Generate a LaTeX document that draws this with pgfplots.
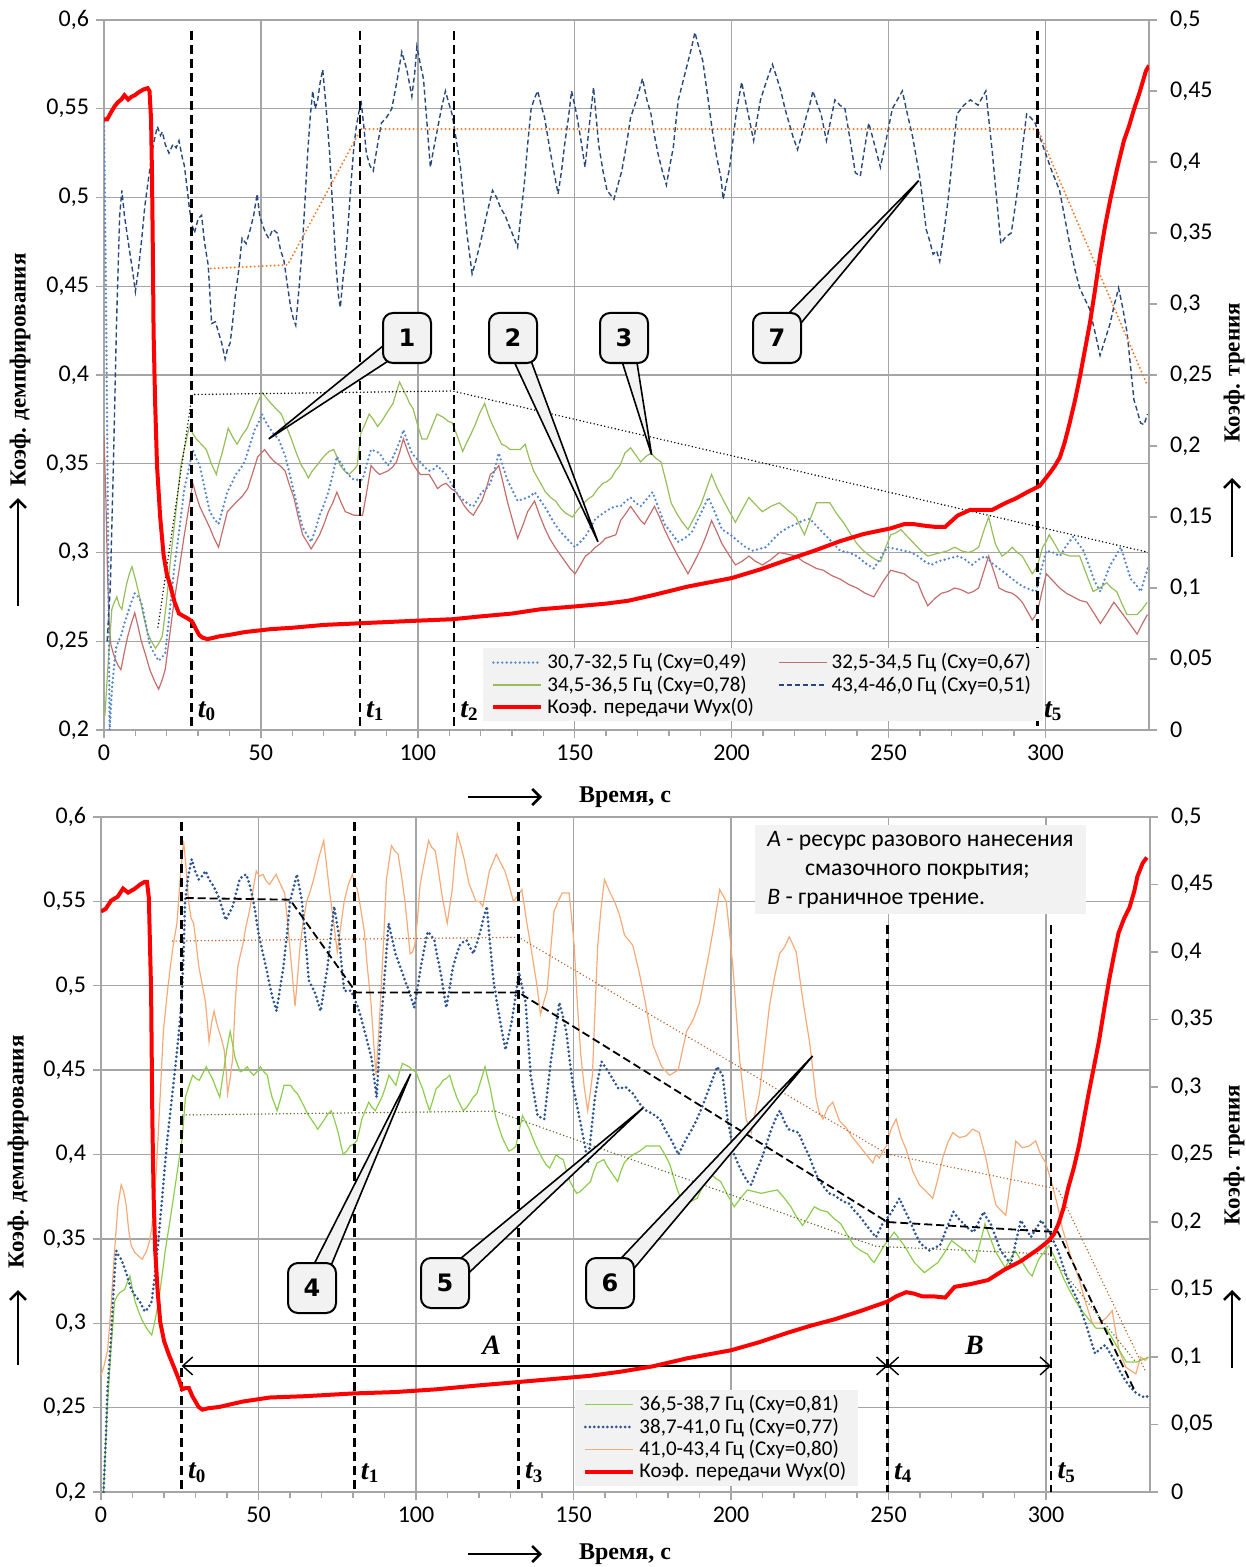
\documentclass[border=0pt]{standalone}
\usepackage{fontspec}
\setmainfont{Carlito}
\newfontfamily\tnr{Liberation Serif}
\newfontfamily\dvs{DejaVu Sans}
\usepackage{pgfplots}
\pgfplotsset{compat=1.18}
\usetikzlibrary{calc,arrows.meta}

\definecolor{lbl}{RGB}{86,134,204}
\definecolor{brn}{RGB}{196,110,108}
\definecolor{grt}{RGB}{150,190,90}
\definecolor{dkb}{RGB}{38,72,125}
\definecolor{org}{RGB}{237,125,49}
\definecolor{grb}{RGB}{140,205,75}
\definecolor{blb}{RGB}{45,85,145}
\definecolor{orb}{RGB}{246,170,120}
\definecolor{trb}{RGB}{190,95,40}
\definecolor{trg}{RGB}{95,105,40}
\definecolor{lg}{RGB}{242,242,242}
\definecolor{grd}{RGB}{165,165,165}
\definecolor{wred}{RGB}{255,0,0}

\newcommand{\tl}[1]{{\tnr\bfseries\itshape\fontsize{14}{14}\selectfont t}{\tnr\bfseries\fontsize{9.5}{9.5}\selectfont\raisebox{-0.4ex}{#1}}}
\newcommand{\callout}[3]{%
  \fill[lg, draw=black, line width=0.8pt] ($#1!4.5pt!90:#2$) -- #2 -- ($#1!4.5pt!-90:#2$) -- cycle;
  \node[callbox] at #1 {#3};}

\pgfplotsset{
  base/.style={scale only axis, xmin=0, xmax=333,
    axis line style={grd, line width=0.7pt},
    tick style={grd, line width=0.7pt}, tick align=outside,
    major tick length=4pt, minor tick length=3pt,
    tick label style={font=\fontsize{12}{12}\selectfont, black},
    legend image code/.code={\draw[##1] (0pt,0pt) -- (24pt,0pt);}},
  leftax/.style={base, ymin=0.2, ymax=0.6,
    ytick={0.2,0.25,0.3,0.35,0.4,0.45,0.5,0.55,0.6},
    yticklabels={{0,2},{0,25},{0,3},{0,35},{0,4},{0,45},{0,5},{0,55},{0,6}},
    xtick={0,50,100,150,200,250,300},
    xticklabels={0,50,100,150,200,250,300}, minor x tick num=4,
    xmajorgrids, ymajorgrids, major grid style={grd, line width=0.7pt},
    xtick pos=bottom, ytick pos=left},
  rightax/.style={base, ymin=0, ymax=0.5,
    ytick={0,0.05,0.1,0.15,0.2,0.25,0.3,0.35,0.4,0.45,0.5},
    yticklabels={0,{0,05},{0,1},{0,15},{0,2},{0,25},{0,3},{0,35},{0,4},{0,45},{0,5}},
    axis y line*=right, axis x line=none,
    yticklabel style={xshift=3pt},
    legend style={font=\fontsize{10.5}{12}\selectfont, fill=lg, draw=none,
      inner xsep=4pt, inner ysep=1.5pt, nodes={inner ysep=1pt, inner xsep=2pt},
      cells={anchor=west}, /tikz/every even column/.append style={column sep=10pt}}},
  tline/.style={black, line width=1.25pt, dash pattern=on 4.5pt off 2.5pt},
  ldot/.style={line width=1.3pt, dash pattern=on 0pt off 2.2pt, line cap=round},
}
\tikzset{callbox/.style={draw, line width=1pt, fill=lg, rounded corners=5pt,
  minimum width=24pt, minimum height=25pt, inner sep=0pt,
  font=\dvs\bfseries\fontsize{12}{12}\selectfont}}

\begin{document}
\begin{tikzpicture}
\path[use as bounding box] (0,0) rectangle (623pt,-783.5pt);

% ================= TOP =================
\begin{axis}[leftax, at={(52pt,-10pt)}, anchor=north west, width=522.5pt, height=355pt]
\addplot[forget plot, brn, line width=0.6pt] coordinates {(0,0.366)(0.6,0.33)(1.1,0.29)(1.6,0.262)(2.2,0.248)(3,0.243)(3.8,0.239)(4.6,0.236)(5.4,0.234)(6.5,0.244)(7.6,0.253)(8.7,0.26)(9.8,0.266)(10.9,0.258)(11.9,0.25)(13.3,0.242)(14.6,0.234)(16,0.228)(17.4,0.223)(18.5,0.228)(19.5,0.234)(20.9,0.253)(22.3,0.272)(24,0.291)(25.6,0.31)(27,0.325)(28.3,0.339)(29.4,0.332)(30.5,0.326)(32.1,0.32)(33.7,0.314)(35.1,0.308)(36.5,0.303)(37.9,0.313)(39.3,0.323)(40.9,0.326)(42.5,0.329)(44.2,0.332)(45.8,0.336)(47.4,0.345)(49,0.354)(50.1,0.356)(51.2,0.358)(52.8,0.354)(54.4,0.351)(56,0.349)(57.7,0.346)(59.1,0.338)(60.5,0.331)(61.9,0.32)(63.3,0.31)(64.7,0.306)(66,0.302)(67.4,0.306)(68.7,0.31)(70.1,0.316)(71.5,0.323)(72.9,0.328)(74.2,0.334)(75.6,0.328)(76.9,0.323)(78.3,0.322)(79.6,0.321)(81,0.321)(82.4,0.321)(83.8,0.335)(85.1,0.349)(86.5,0.346)(87.8,0.344)(89.2,0.345)(90.5,0.346)(91.9,0.348)(93.2,0.351)(94.3,0.357)(95.4,0.364)(96.8,0.357)(98.1,0.351)(99.5,0.347)(100.8,0.344)(102.2,0.344)(103.6,0.344)(105,0.34)(106.3,0.336)(107.7,0.338)(109,0.339)(110.6,0.336)(112.2,0.334)(113.6,0.33)(114.9,0.326)(116.3,0.323)(117.7,0.321)(119,0.325)(120.4,0.329)(121.8,0.336)(123.1,0.344)(124.5,0.346)(125.8,0.349)(127.2,0.339)(128.5,0.329)(130.2,0.318)(131.8,0.308)(133.4,0.315)(135,0.323)(136.1,0.326)(137.2,0.329)(138.8,0.321)(140.4,0.314)(142,0.308)(143.7,0.303)(145.3,0.299)(146.9,0.295)(148.5,0.291)(150.1,0.288)(151.8,0.293)(153.4,0.298)(155,0.3)(156.6,0.303)(158.2,0.305)(159.8,0.308)(161.5,0.309)(163.1,0.31)(164.6,0.318)(166.3,0.322)(167.8,0.326)(169.4,0.322)(171,0.318)(172.2,0.316)(173.8,0.321)(175.4,0.326)(177,0.32)(178.6,0.313)(180.8,0.305)(182.9,0.298)(184.5,0.293)(186.1,0.288)(188.2,0.295)(190.4,0.303)(192,0.31)(193.6,0.318)(195.2,0.312)(196.9,0.305)(199,0.299)(201.2,0.293)(203.3,0.295)(205.5,0.298)(207.6,0.295)(209.8,0.293)(212.5,0.296)(215.2,0.3)(217.9,0.299)(220.5,0.298)(222.7,0.295)(224.9,0.293)(227,0.291)(229.2,0.29)(231.9,0.287)(234.6,0.285)(237.3,0.282)(239.9,0.28)(242.6,0.277)(245.3,0.275)(248,0.283)(250.7,0.29)(252.8,0.289)(255,0.288)(257.2,0.285)(259.3,0.283)(260.9,0.276)(262.5,0.27)(264.7,0.274)(266.8,0.277)(268.9,0.278)(271.1,0.28)(273.2,0.279)(275.4,0.277)(277,0.278)(278.7,0.28)(280.3,0.289)(281.9,0.298)(283.6,0.289)(285.2,0.28)(287.4,0.278)(289.5,0.277)(291,0.275)(292.6,0.272)(294.2,0.267)(295.8,0.262)(296.6,0.264)(297.5,0.267)(298.9,0.278)(300.3,0.288)(302.4,0.284)(304.5,0.28)(306.7,0.277)(308.9,0.275)(311,0.273)(313.2,0.272)(315.4,0.266)(317.5,0.26)(319.7,0.266)(321.8,0.272)(323.9,0.267)(326,0.262)(327.6,0.258)(329.2,0.254)(330.9,0.26)(332.5,0.265)};
\addplot[forget plot, grt, line width=0.6pt] coordinates {(0.3,0.208)(1.4,0.24)(2.5,0.268)(3.3,0.272)(4.1,0.275)(4.9,0.27)(5.7,0.268)(6.5,0.276)(7.3,0.283)(8.1,0.288)(8.9,0.292)(10,0.285)(11.1,0.277)(12.4,0.266)(13.8,0.255)(15.1,0.25)(16.4,0.246)(17.5,0.249)(18.6,0.253)(19.9,0.272)(21.3,0.298)(22.9,0.323)(24.5,0.349)(25.8,0.36)(27.2,0.371)(28.3,0.367)(29.4,0.364)(31,0.361)(32.6,0.358)(34.2,0.35)(35.8,0.344)(36.6,0.35)(37.5,0.355)(38.5,0.362)(39.6,0.37)(41,0.365)(42.4,0.361)(44,0.366)(45.6,0.37)(47.2,0.377)(48.8,0.384)(49.6,0.387)(50.5,0.39)(51.8,0.387)(53.2,0.384)(54.8,0.381)(56.5,0.378)(58.1,0.371)(59.7,0.364)(61.3,0.356)(62.9,0.349)(64,0.346)(65.1,0.342)(66.4,0.346)(67.8,0.349)(69.1,0.352)(70.5,0.355)(71.8,0.357)(73.2,0.358)(74.2,0.354)(75.3,0.349)(76.6,0.346)(78,0.344)(79.3,0.346)(80.7,0.349)(81.8,0.367)(83.1,0.372)(84.5,0.378)(85.8,0.375)(87.2,0.371)(88.5,0.374)(89.9,0.378)(91,0.381)(92.1,0.384)(93.1,0.39)(94.2,0.396)(95.3,0.392)(96.4,0.388)(97.4,0.384)(98.5,0.381)(99.9,0.372)(101.3,0.364)(102.9,0.364)(104.5,0.371)(106.1,0.378)(107.2,0.377)(108.3,0.376)(109.6,0.374)(111,0.373)(112.7,0.365)(114.3,0.357)(115.6,0.362)(117,0.367)(118.3,0.372)(119.6,0.378)(121.3,0.384)(122.4,0.378)(123.5,0.373)(125.1,0.367)(126.7,0.361)(128,0.36)(129.4,0.358)(131,0.358)(132.6,0.358)(134.2,0.361)(135.5,0.353)(136.9,0.346)(138.8,0.34)(140.7,0.334)(142.3,0.331)(143.9,0.329)(145.5,0.325)(147.2,0.322)(149.3,0.32)(150.9,0.324)(152.5,0.327)(154.1,0.33)(155.8,0.332)(157.4,0.336)(159,0.339)(160.3,0.34)(161.7,0.342)(163,0.346)(164.4,0.349)(166,0.356)(167.8,0.359)(169.4,0.355)(171,0.351)(172.6,0.354)(174.3,0.356)(175.9,0.353)(177.5,0.351)(179.1,0.34)(180.7,0.328)(182.5,0.322)(184.3,0.317)(186.1,0.313)(188.2,0.32)(190.4,0.328)(192,0.336)(193.6,0.344)(195.2,0.337)(196.9,0.331)(199,0.324)(201.2,0.317)(203.3,0.324)(205.5,0.331)(207.6,0.327)(209.8,0.323)(212.5,0.326)(215.2,0.328)(217.8,0.324)(220.5,0.32)(221.8,0.315)(223.2,0.31)(225.1,0.319)(227,0.328)(229.2,0.328)(231.3,0.328)(233.4,0.322)(235.6,0.317)(237.7,0.311)(239.9,0.305)(242,0.301)(244.2,0.298)(245.8,0.296)(247.5,0.295)(249.1,0.303)(250.7,0.31)(252.3,0.311)(253.9,0.313)(256,0.309)(258.2,0.305)(260.3,0.301)(262.5,0.298)(264.6,0.299)(266.8,0.3)(268.9,0.301)(271.1,0.303)(273.2,0.301)(275.4,0.3)(277,0.301)(278.7,0.303)(280.3,0.312)(281.9,0.32)(283,0.312)(284,0.305)(285.1,0.301)(286.2,0.298)(287.8,0.3)(289.4,0.303)(291,0.3)(292.6,0.298)(294.2,0.293)(295.8,0.288)(296.6,0.29)(297.5,0.293)(298.3,0.298)(299.1,0.303)(300.2,0.306)(301.2,0.31)(302.9,0.305)(304.5,0.3)(306.1,0.299)(307.7,0.298)(309.3,0.298)(310.9,0.298)(313,0.288)(315.2,0.278)(317.3,0.28)(319.5,0.283)(321.1,0.28)(322.7,0.278)(324.4,0.271)(326,0.265)(327.6,0.265)(329.2,0.265)(330.8,0.268)(332.4,0.272)};
\addplot[forget plot, lbl, ldot] coordinates {(0,0.545)(0.6,0.45)(1.2,0.33)(1.8,0.2)(2.6,0.225)(3.8,0.246)(4.6,0.25)(5.4,0.253)(6.5,0.26)(7.6,0.266)(8.7,0.272)(9.8,0.277)(10.9,0.275)(11.9,0.272)(13.3,0.26)(14.6,0.248)(16,0.243)(17.4,0.239)(18.5,0.241)(19.5,0.243)(20.9,0.266)(22.3,0.29)(24,0.313)(25.6,0.336)(27,0.347)(28.3,0.358)(29.4,0.353)(30.5,0.349)(32.1,0.336)(33.7,0.323)(35.1,0.319)(36.5,0.316)(37.9,0.325)(39.3,0.334)(40.7,0.339)(42,0.344)(43.4,0.347)(44.8,0.351)(46.4,0.36)(48,0.369)(49.2,0.373)(50.3,0.378)(51.4,0.374)(52.4,0.371)(54,0.367)(55.6,0.364)(56.7,0.359)(57.8,0.354)(59.2,0.344)(60.5,0.334)(61.9,0.324)(63.3,0.314)(64.7,0.31)(66,0.306)(67.4,0.313)(68.7,0.321)(70.1,0.327)(71.5,0.334)(72.9,0.344)(74.2,0.354)(75.6,0.35)(76.9,0.346)(78.3,0.343)(79.6,0.341)(81,0.341)(82.4,0.341)(83.8,0.35)(85.1,0.358)(86.5,0.357)(87.8,0.356)(89.2,0.352)(90.5,0.349)(91.9,0.353)(93.2,0.358)(94.3,0.363)(95.4,0.369)(96.8,0.362)(98.1,0.356)(99.5,0.353)(100.8,0.351)(102.2,0.348)(103.6,0.346)(105,0.347)(106.3,0.349)(107.7,0.346)(109,0.344)(110.6,0.339)(112.2,0.334)(113.6,0.331)(114.9,0.329)(116.3,0.327)(117.7,0.326)(119,0.33)(120.4,0.334)(121.8,0.336)(123.1,0.339)(124.5,0.347)(125.8,0.356)(127.2,0.348)(128.5,0.341)(130.2,0.335)(131.8,0.329)(133.4,0.33)(135,0.331)(136.1,0.332)(137.2,0.334)(138.8,0.33)(140.4,0.326)(142,0.321)(143.7,0.316)(145.3,0.312)(146.9,0.309)(148.5,0.306)(150.1,0.303)(151.8,0.306)(153.4,0.309)(155,0.314)(156.6,0.319)(158.2,0.321)(159.8,0.323)(161.5,0.325)(163.1,0.326)(164.6,0.326)(166.3,0.329)(167.8,0.331)(169.4,0.328)(171,0.326)(172.9,0.33)(174.8,0.334)(176.7,0.325)(178.6,0.316)(180.8,0.311)(182.9,0.306)(185,0.308)(187.2,0.311)(189.9,0.321)(192.6,0.331)(194.8,0.322)(196.9,0.313)(199.6,0.31)(202.3,0.306)(204.5,0.303)(206.6,0.301)(208.8,0.302)(210.9,0.303)(213,0.307)(215.2,0.311)(217.9,0.314)(220.5,0.316)(222.7,0.318)(224.9,0.319)(227,0.315)(229.2,0.311)(231.9,0.306)(234.6,0.301)(237.3,0.3)(239.9,0.298)(242.6,0.294)(245.3,0.291)(247.5,0.297)(249.6,0.303)(252.3,0.302)(255,0.301)(257.2,0.3)(259.3,0.298)(261.5,0.295)(263.6,0.293)(265.8,0.295)(267.9,0.296)(270.1,0.297)(272.3,0.298)(274.4,0.296)(276.6,0.293)(278.7,0.296)(280.9,0.298)(283,0.294)(285.2,0.291)(287.4,0.288)(289.5,0.285)(291.7,0.282)(293.8,0.28)(295.4,0.279)(297,0.278)(298.6,0.29)(300.3,0.301)(302.4,0.3)(304.6,0.298)(306.7,0.304)(308.9,0.309)(310.5,0.305)(312.1,0.301)(313.8,0.293)(315.4,0.285)(316.5,0.281)(317.5,0.278)(319.1,0.286)(320.7,0.293)(322.4,0.298)(324,0.303)(325.6,0.294)(327.2,0.285)(328.8,0.282)(330.4,0.278)(331.5,0.285)(332.6,0.291)};
\addplot[forget plot, dkb, line width=0.7pt, dash pattern=on 2.5pt off 1.5pt] coordinates {(1,0.25)(2,0.28)(3,0.35)(4,0.43)(5,0.49)(5.7,0.504)(6.5,0.49)(7.8,0.474)(9,0.46)(10,0.447)(11,0.46)(12.1,0.478)(13,0.495)(14.3,0.512)(15.5,0.528)(17,0.54)(18,0.535)(18.6,0.537)(19.5,0.53)(20.7,0.525)(22,0.53)(23,0.528)(23.9,0.532)(25,0.522)(25.6,0.518)(26.5,0.505)(27.2,0.494)(28,0.485)(28.8,0.48)(30,0.488)(31.1,0.49)(32,0.475)(33.2,0.462)(34.3,0.429)(35.5,0.43)(36.5,0.424)(37.5,0.418)(38.6,0.409)(39.4,0.415)(40.2,0.418)(41,0.43)(41.8,0.444)(43,0.46)(44,0.477)(45.3,0.474)(46.6,0.482)(47.7,0.49)(48.8,0.502)(49.6,0.49)(50.4,0.485)(51.5,0.48)(52.5,0.477)(53.8,0.482)(55.2,0.48)(56.3,0.47)(57.3,0.465)(58.5,0.45)(59.5,0.438)(60.3,0.432)(61.1,0.428)(62.2,0.45)(63.3,0.475)(64.1,0.5)(64.9,0.525)(65.7,0.545)(66.5,0.56)(67.3,0.55)(68.1,0.555)(68.9,0.565)(69.7,0.572)(70.8,0.55)(71.9,0.525)(73,0.49)(74,0.46)(74.7,0.445)(75.3,0.438)(76.2,0.455)(77.2,0.47)(78,0.49)(78.8,0.51)(79.6,0.528)(80.4,0.54)(81.2,0.548)(82,0.553)(82.8,0.54)(83.6,0.525)(84.7,0.518)(85.8,0.515)(87,0.528)(88.4,0.542)(90,0.545)(91.7,0.55)(93.3,0.565)(94.9,0.582)(96.5,0.572)(98.1,0.557)(99,0.57)(99.7,0.585)(100.8,0.575)(101.8,0.567)(103,0.54)(104,0.517)(105,0.527)(106.1,0.537)(107.5,0.55)(108.8,0.56)(109.9,0.553)(110.9,0.547)(112.3,0.532)(113.6,0.517)(114.6,0.498)(115.7,0.479)(116.5,0.468)(117.3,0.457)(118.6,0.465)(120,0.475)(121.9,0.49)(123.8,0.504)(125.1,0.5)(126.4,0.494)(127.8,0.49)(129.1,0.484)(130.5,0.478)(131.8,0.472)(132.8,0.49)(133.9,0.507)(135,0.53)(136.1,0.55)(137.2,0.556)(138.2,0.56)(139.3,0.552)(140.4,0.545)(141.8,0.53)(143.1,0.517)(144.7,0.502)(145.8,0.515)(146.8,0.53)(148,0.545)(149,0.56)(150.6,0.547)(152,0.532)(153.3,0.517)(154.6,0.54)(156,0.562)(157.6,0.53)(159,0.515)(160.3,0.504)(162.5,0.499)(165,0.515)(166.5,0.53)(167.8,0.545)(169.7,0.555)(171.6,0.567)(173,0.555)(174.3,0.547)(175.4,0.535)(176.5,0.525)(177.9,0.515)(179.2,0.507)(180.3,0.518)(181.4,0.528)(182.2,0.542)(183,0.555)(184.6,0.566)(186.3,0.578)(187.3,0.585)(188.3,0.593)(189.5,0.585)(190.8,0.577)(192.3,0.558)(193.9,0.537)(195.2,0.523)(196.6,0.511)(197.3,0.499)(198.3,0.508)(199.3,0.516)(200.4,0.532)(201.5,0.548)(203.2,0.565)(204.2,0.556)(205.3,0.547)(207,0.532)(208,0.543)(209.2,0.555)(211,0.565)(213,0.575)(214.3,0.568)(215.7,0.56)(217,0.55)(218.3,0.542)(219.6,0.534)(221,0.527)(222.3,0.535)(223.7,0.545)(225,0.553)(225.9,0.56)(227.2,0.553)(228.5,0.547)(230.2,0.532)(231.5,0.543)(232.9,0.555)(234.5,0.552)(236.1,0.55)(237.8,0.532)(239.4,0.514)(241,0.512)(242.3,0.527)(243.7,0.542)(245.5,0.53)(247.4,0.517)(249.3,0.533)(251.2,0.55)(252.8,0.555)(254.4,0.56)(256,0.547)(257.7,0.534)(258.8,0.523)(259.9,0.512)(261,0.497)(262,0.482)(263.2,0.475)(264.2,0.468)(265.3,0.47)(266.3,0.464)(267.6,0.48)(269,0.499)(270.4,0.523)(271.8,0.547)(274,0.552)(276.1,0.555)(278.5,0.552)(281,0.56)(282,0.543)(283.1,0.525)(284.4,0.5)(285.8,0.474)(287.4,0.478)(289.1,0.48)(290.2,0.493)(291.3,0.507)(292.6,0.527)(294,0.547)(295.3,0.545)(296.7,0.542)(298,0.535)(300,0.525)(302,0.515)(304.5,0.504)(306,0.49)(307.7,0.474)(309.3,0.46)(310.9,0.449)(312.5,0.443)(314.1,0.437)(315.8,0.424)(317.4,0.411)(319,0.42)(320.6,0.429)(322,0.44)(323.3,0.449)(324.6,0.438)(326,0.424)(327.1,0.405)(328.2,0.386)(329.2,0.38)(330.3,0.373)(331.4,0.372)(332.5,0.378)};
% trend lines
\addplot[forget plot, org, line width=1.1pt, dash pattern=on 0pt off 2pt, line cap=round] coordinates {(34,0.46)(58.5,0.462)(81.9,0.5386)(297.5,0.5386)(332.5,0.394)};
\addplot[forget plot, black, line width=0.8pt, dash pattern=on 0pt off 1.8pt, line cap=round] coordinates {(17.2,0.258)(28.1,0.389)(111,0.391)(333,0.3)};
% time markers
\addplot[forget plot, tline] coordinates {(27.9,0.594)(27.9,0.2)};
\addplot[forget plot, tline] coordinates {(81.5,0.594)(81.5,0.2)};
\addplot[forget plot, tline] coordinates {(111.5,0.594)(111.5,0.2)};
\addplot[forget plot, tline] coordinates {(297.5,0.594)(297.5,0.2)};
\node[anchor=west, inner sep=1pt, xshift=2pt] at (axis cs:27.9,0.2107) {\tl{0}};
\node[anchor=west, inner sep=1pt, xshift=2pt] at (axis cs:81.5,0.2107) {\tl{1}};
\node[anchor=west, inner sep=1pt, xshift=2pt] at (axis cs:111.5,0.2107) {\tl{2}};
\node[anchor=west, inner sep=1pt, xshift=2pt] at (axis cs:297.5,0.2107) {\tl{5}};
\coordinate (p1) at (axis cs:52.5,0.364);
\coordinate (p2) at (axis cs:157.4,0.306);
\coordinate (p3) at (axis cs:174.5,0.355);
\coordinate (p7) at (axis cs:259.6,0.5095);
\end{axis}

\begin{axis}[rightax, at={(52pt,-10pt)}, anchor=north west, width=522.5pt, height=355pt,
  legend columns=2, legend style={at={(0.3627,0.1155)}, anchor=north west}]
\addlegendimage{lbl, ldot}
\addlegendentry{30,7-32,5 Гц (Cxy=0,49)}
\addlegendimage{brn, line width=0.8pt}
\addlegendentry{32,5-34,5 Гц (Cxy=0,67)}
\addlegendimage{grt, line width=0.8pt}
\addlegendentry{34,5-36,5 Гц (Cxy=0,78)}
\addlegendimage{dkb, line width=0.7pt, dash pattern=on 2.5pt off 1.5pt}
\addlegendentry{43,4-46,0 Гц (Cxy=0,51)}
\addlegendimage{wred, line width=2pt}
\addlegendentry{Коэф. передачи Wyx(0)}
\addplot[forget plot, wred, line width=2pt] coordinates {(0,0.43)(1,0.43)(2,0.434)(3.3,0.439)(4.4,0.442)(5.5,0.444)(6.5,0.447)(7.7,0.444)(8.8,0.446)(9.8,0.447)(11,0.449)(12.5,0.451)(13.9,0.452)(14.5,0.45)(15,0.43)(15.3,0.39)(15.6,0.33)(15.8,0.28)(16.3,0.23)(16.9,0.186)(17.9,0.15)(19,0.123)(20,0.11)(21.2,0.101)(22.5,0.09)(23.9,0.082)(25.5,0.08)(27.1,0.078)(28.2,0.076)(29.3,0.071)(30.3,0.067)(31.4,0.065)(33,0.064)(35,0.065)(36.8,0.066)(40,0.067)(45,0.069)(53,0.071)(60,0.072)(70,0.074)(79.9,0.075)(90,0.076)(100,0.077)(111,0.078)(120,0.08)(130,0.082)(139,0.085)(150,0.087)(160,0.089)(167,0.091)(175,0.095)(186,0.101)(193,0.104)(200,0.107)(209,0.113)(218,0.12)(226,0.126)(234.6,0.133)(242,0.138)(250.7,0.142)(255,0.145)(258,0.145)(261,0.144)(265,0.143)(268,0.143)(272,0.151)(276,0.155)(280,0.155)(283,0.155)(287.4,0.16)(290.5,0.163)(293.8,0.167)(298.2,0.172)(301.4,0.181)(303,0.186)(304.6,0.192)(306.2,0.203)(307.8,0.217)(309.4,0.232)(311,0.249)(312.6,0.268)(314.2,0.287)(315.8,0.31)(317.4,0.334)(319,0.355)(320.7,0.374)(322.8,0.395)(325,0.415)(326.6,0.425)(328.2,0.437)(330,0.449)(332,0.464)(333,0.468)};
\end{axis}

% ================= BOTTOM =================
\begin{axis}[leftax, at={(50.5pt,-408.5pt)}, anchor=north west, width=524.5pt, height=337.5pt]
\addplot[forget plot, orb, line width=0.6pt] coordinates {(0,0.269)(1,0.275)(2.1,0.284)(3.2,0.31)(4.3,0.343)(5.4,0.37)(6.4,0.382)(7.2,0.378)(8,0.37)(8.8,0.355)(9.6,0.346)(10.7,0.342)(11.8,0.34)(13.1,0.338)(14.5,0.343)(15.3,0.348)(16.1,0.356)(17,0.375)(17.7,0.395)(18.8,0.435)(19.8,0.473)(21,0.495)(22,0.511)(23,0.525)(24.1,0.537)(25.2,0.565)(26.2,0.586)(27,0.57)(27.8,0.55)(28.6,0.54)(29.4,0.537)(30.2,0.525)(31.1,0.511)(32.2,0.5)(33.2,0.49)(34.3,0.467)(35.1,0.478)(35.9,0.485)(36.7,0.478)(37.5,0.473)(38.3,0.468)(39.1,0.462)(39.7,0.45)(40.2,0.436)(41,0.445)(41.8,0.457)(42.6,0.49)(43.4,0.511)(44.2,0.518)(45,0.524)(46,0.535)(47.1,0.544)(48.2,0.556)(49.3,0.568)(50.3,0.565)(51.4,0.566)(52.5,0.562)(53.5,0.56)(54.5,0.563)(55.6,0.566)(57,0.56)(58.3,0.555)(59.1,0.54)(59.9,0.524)(60.8,0.505)(61.6,0.488)(62.4,0.505)(63.2,0.524)(64.2,0.538)(65.3,0.55)(66.4,0.556)(67.5,0.563)(69,0.575)(70.7,0.586)(71.5,0.573)(72.3,0.56)(73.1,0.548)(73.9,0.537)(75,0.52)(76.1,0.535)(77.2,0.55)(78.5,0.56)(79.8,0.566)(80.6,0.56)(81.4,0.557)(82.5,0.545)(83.6,0.532)(84.6,0.51)(85.7,0.49)(86.5,0.468)(87.3,0.447)(88.1,0.47)(88.9,0.497)(89.8,0.53)(90.6,0.563)(91.4,0.573)(92.2,0.583)(93.2,0.58)(94.3,0.578)(95.4,0.565)(96.5,0.55)(97.3,0.535)(98.1,0.519)(98.9,0.52)(99.6,0.524)(100.5,0.54)(101.3,0.56)(102.6,0.573)(104,0.586)(105,0.582)(106.1,0.58)(107.2,0.567)(108.3,0.553)(109.1,0.545)(109.9,0.537)(110.7,0.547)(111.5,0.557)(112.3,0.575)(113.1,0.59)(114.2,0.583)(115.3,0.575)(116.1,0.567)(116.9,0.56)(118,0.555)(119,0.55)(120.1,0.55)(121.2,0.547)(122.2,0.557)(123.3,0.568)(124.4,0.573)(125.5,0.578)(126.8,0.573)(128.2,0.568)(129.5,0.56)(130.9,0.55)(132.2,0.553)(133.6,0.557)(134.4,0.547)(135.2,0.537)(136.3,0.525)(137.3,0.513)(138.4,0.5)(139.5,0.483)(140.5,0.49)(141.6,0.497)(142.7,0.52)(143.8,0.544)(145.1,0.55)(146.4,0.555)(147.5,0.555)(148.6,0.555)(149.4,0.54)(150.2,0.524)(151.2,0.49)(152.3,0.459)(153.4,0.44)(154.5,0.426)(155.2,0.435)(156,0.447)(156.8,0.485)(157.7,0.524)(158.7,0.545)(159.8,0.563)(161.4,0.556)(163,0.55)(164.6,0.542)(166.2,0.53)(168.8,0.524)(170.6,0.51)(172.5,0.493)(175.2,0.465)(178,0.452)(180.5,0.447)(183.2,0.45)(185.9,0.473)(188,0.48)(190,0.49)(192.7,0.516)(194.5,0.535)(196.4,0.557)(198.5,0.55)(199.6,0.53)(200.6,0.511)(202.7,0.457)(204.8,0.421)(206.4,0.413)(207.7,0.425)(209,0.436)(210.6,0.462)(212.2,0.488)(213.8,0.505)(215.4,0.519)(217,0.523)(218.5,0.529)(220.7,0.52)(222.3,0.498)(223.6,0.482)(224.9,0.467)(226,0.45)(227,0.433)(228,0.425)(229.2,0.421)(230.8,0.428)(232.3,0.431)(234.4,0.42)(236.5,0.416)(238.6,0.41)(240.8,0.405)(242.9,0.4)(245,0.395)(246,0.4)(247.1,0.398)(248.2,0.402)(249.3,0.405)(250.8,0.415)(252.4,0.421)(254,0.41)(255.6,0.403)(257.7,0.39)(259.8,0.382)(262,0.378)(264,0.374)(265.6,0.385)(267.2,0.398)(268.8,0.407)(270.4,0.413)(272.5,0.41)(274.6,0.411)(276.7,0.415)(278.8,0.413)(280.9,0.398)(282.5,0.383)(284.1,0.37)(285.6,0.367)(287.2,0.364)(288.8,0.385)(290.4,0.408)(292.5,0.404)(294.6,0.405)(296.7,0.408)(298.3,0.4)(299.9,0.395)(302,0.382)(303.6,0.37)(305.2,0.356)(307.8,0.34)(310.5,0.326)(312.6,0.312)(314.7,0.3)(316.8,0.3)(319,0.303)(321,0.3075)(322.1,0.295)(323.2,0.284)(325.3,0.274)(328.5,0.27)(330,0.28)(331.5,0.278)(332.5,0.28)};
\addplot[forget plot, grb, line width=0.6pt] coordinates {(0.8,0.2)(1.4,0.225)(2.1,0.253)(3.2,0.285)(4.3,0.313)(5.1,0.316)(5.9,0.318)(6.7,0.319)(7.5,0.32)(8.3,0.324)(9.2,0.328)(10,0.32)(10.8,0.313)(11.9,0.307)(13,0.302)(14.5,0.297)(16.1,0.293)(17.2,0.302)(18.2,0.312)(19.3,0.327)(20.4,0.343)(22,0.362)(23.6,0.382)(24.7,0.396)(25.8,0.41)(26.8,0.434)(28,0.441)(29.1,0.447)(30.2,0.445)(31.2,0.444)(32.3,0.448)(33.4,0.452)(34.5,0.448)(35.6,0.444)(36.6,0.439)(37.7,0.434)(38.8,0.448)(39.9,0.462)(41,0.473)(41.8,0.465)(42.6,0.457)(43.4,0.453)(44.2,0.449)(45.3,0.45)(46.4,0.452)(47.4,0.449)(48.5,0.447)(49.5,0.449)(50.6,0.452)(51.7,0.449)(52.8,0.447)(53.5,0.44)(54.3,0.434)(55.1,0.43)(55.9,0.426)(57,0.433)(58.1,0.441)(59.1,0.441)(60.2,0.441)(61.3,0.438)(62.4,0.436)(63.5,0.432)(64.6,0.428)(65.6,0.424)(66.7,0.421)(67.8,0.418)(68.8,0.415)(69.9,0.418)(71,0.421)(72,0.424)(73.1,0.426)(74.2,0.42)(75.3,0.413)(76.1,0.406)(76.9,0.4)(78,0.402)(79,0.405)(80.1,0.406)(81.2,0.408)(82,0.414)(82.8,0.421)(83.9,0.426)(85,0.431)(86,0.428)(87.1,0.426)(88.1,0.43)(89.2,0.434)(90.3,0.44)(91.4,0.447)(92.5,0.444)(93.6,0.441)(94.6,0.448)(95.7,0.454)(96.7,0.453)(97.8,0.452)(98.9,0.45)(100,0.449)(101,0.444)(102.1,0.439)(103.2,0.432)(104.3,0.426)(105.3,0.432)(106.4,0.439)(107.5,0.441)(108.6,0.444)(109.6,0.445)(110.7,0.447)(111.8,0.44)(112.9,0.434)(113.9,0.43)(115,0.426)(116.1,0.428)(117.2,0.431)(118.2,0.434)(119.3,0.436)(120.6,0.444)(121.9,0.452)(122.8,0.445)(123.6,0.439)(124.4,0.431)(125.2,0.423)(126.3,0.416)(127.4,0.41)(128.4,0.406)(129.5,0.402)(130.6,0.403)(131.7,0.405)(132.7,0.414)(133.8,0.423)(134.9,0.419)(136,0.415)(137,0.41)(138.1,0.405)(139.2,0.401)(140.3,0.397)(141.3,0.394)(142.4,0.392)(143.5,0.396)(144.5,0.4)(145.6,0.398)(146.7,0.397)(147.8,0.39)(148.9,0.384)(150,0.38)(151,0.377)(152.1,0.378)(153.2,0.38)(154.3,0.382)(155.4,0.384)(156.4,0.39)(157.5,0.395)(158.6,0.396)(159.6,0.397)(160.7,0.393)(161.8,0.39)(162.9,0.387)(164,0.384)(165,0.39)(166.1,0.395)(167.5,0.398)(169,0.4)(171,0.402)(173,0.405)(175,0.405)(177.4,0.405)(179,0.4)(180.6,0.394)(182.8,0.38)(185,0.369)(187,0.372)(189.2,0.374)(191.3,0.382)(193.4,0.389)(195,0.386)(196.7,0.384)(198.9,0.376)(201,0.369)(203,0.374)(205.2,0.379)(207.4,0.378)(209.6,0.377)(212,0.378)(214.7,0.379)(217,0.374)(219,0.369)(220.8,0.363)(222.7,0.358)(224.5,0.363)(226.4,0.369)(228.5,0.367)(230.6,0.366)(232.7,0.362)(234.8,0.359)(237,0.352)(239,0.346)(241.2,0.343)(243.3,0.341)(244.4,0.338)(245.4,0.336)(247,0.341)(248.6,0.346)(250.2,0.35)(251.8,0.354)(253.4,0.35)(255,0.346)(256.6,0.341)(258.2,0.336)(259.8,0.333)(261.4,0.33)(263.5,0.333)(265.7,0.336)(267.8,0.342)(270,0.349)(272.1,0.346)(274.2,0.343)(275.8,0.339)(277.4,0.336)(279,0.347)(280.6,0.359)(282.2,0.351)(283.8,0.343)(285.4,0.338)(287,0.333)(288.6,0.338)(290.2,0.343)(291.8,0.338)(293.5,0.333)(294.5,0.33)(295.6,0.328)(296.6,0.333)(297.7,0.338)(299.3,0.342)(300.9,0.346)(302.5,0.34)(304.1,0.333)(305.7,0.326)(307.3,0.32)(309.4,0.313)(311.6,0.307)(313.7,0.302)(315.9,0.297)(317.5,0.297)(319.1,0.297)(320.7,0.292)(322.3,0.287)(323.9,0.282)(325.5,0.277)(327.1,0.277)(328.7,0.277)(330,0.278)(331.4,0.279)(332.5,0.28)};
\addplot[forget plot, blb, line width=1.5pt, dash pattern=on 0pt off 2.2pt, line cap=round] coordinates {(0.8,0.2)(1.5,0.23)(2,0.259)(3.2,0.292)(4,0.32)(4.8,0.343)(5.6,0.34)(6.4,0.338)(7.2,0.334)(8,0.33)(8.8,0.325)(9.6,0.32)(11,0.316)(12.3,0.313)(13.1,0.31)(13.9,0.307)(15,0.309)(16.1,0.313)(17.2,0.33)(18.2,0.349)(19.6,0.378)(21,0.408)(22.3,0.43)(23.6,0.452)(24.6,0.47)(25.6,0.49)(26.2,0.52)(26.7,0.55)(27.7,0.565)(28.8,0.575)(29.9,0.568)(31,0.563)(32.1,0.565)(33.2,0.568)(34.3,0.563)(35.4,0.56)(36.5,0.556)(37.5,0.552)(38.6,0.545)(39.6,0.539)(40.7,0.543)(41.8,0.547)(42.9,0.555)(44,0.563)(45,0.565)(46.1,0.566)(47.2,0.56)(48.2,0.552)(49.1,0.542)(49.9,0.532)(50.7,0.525)(51.4,0.519)(52.5,0.51)(53.6,0.5)(54.6,0.492)(55.7,0.485)(56.8,0.498)(57.9,0.511)(59,0.53)(60,0.55)(61.1,0.558)(62.2,0.566)(63,0.558)(63.8,0.55)(64.9,0.527)(66,0.503)(67.1,0.499)(68.1,0.495)(68.9,0.49)(69.7,0.485)(70.8,0.498)(71.9,0.511)(73,0.53)(74,0.547)(74.9,0.537)(75.7,0.527)(76.4,0.512)(77.2,0.497)(78.3,0.497)(79.4,0.497)(80.5,0.492)(81.6,0.487)(82.7,0.48)(83.7,0.473)(84.8,0.465)(85.9,0.457)(86.7,0.445)(87.5,0.434)(88.3,0.46)(89.2,0.485)(90.2,0.51)(91.3,0.537)(92.4,0.528)(93.5,0.519)(94.6,0.513)(95.6,0.508)(96.7,0.502)(97.8,0.497)(98.6,0.492)(99.4,0.487)(100.5,0.499)(101.5,0.511)(102.6,0.522)(103.7,0.532)(104.7,0.53)(105.8,0.527)(106.9,0.516)(108,0.506)(108.8,0.496)(109.6,0.487)(110.7,0.499)(111.7,0.511)(112.8,0.518)(113.9,0.524)(115,0.526)(116,0.527)(117.1,0.523)(118.2,0.519)(119.3,0.525)(120.4,0.532)(121.4,0.54)(122.5,0.547)(123.5,0.525)(124.6,0.503)(125.7,0.49)(126.8,0.478)(127.6,0.47)(128.4,0.462)(129.5,0.471)(130.5,0.48)(131.6,0.494)(132.7,0.508)(133.7,0.499)(134.8,0.49)(135.6,0.468)(136.4,0.447)(137.5,0.435)(138.6,0.423)(139.6,0.422)(140.7,0.421)(141.8,0.439)(142.9,0.457)(144.2,0.473)(145.5,0.49)(146.6,0.482)(147.7,0.473)(148.7,0.457)(149.8,0.441)(151.2,0.428)(152.5,0.416)(153.6,0.405)(154.6,0.395)(155.7,0.415)(156.8,0.434)(157.8,0.445)(158.9,0.455)(160,0.452)(161.1,0.449)(162.7,0.444)(164.3,0.439)(166.5,0.44)(168.9,0.436)(171,0.43)(173.1,0.426)(175.2,0.424)(177.4,0.421)(179,0.415)(180.6,0.41)(182,0.405)(183.3,0.4)(184.6,0.405)(186,0.41)(187.6,0.415)(189.2,0.421)(190.8,0.428)(192.4,0.436)(194,0.444)(195.6,0.452)(197.3,0.447)(198.1,0.435)(198.9,0.421)(200,0.41)(201,0.4)(202.6,0.393)(204.2,0.387)(205.3,0.384)(206.4,0.382)(208,0.39)(209.6,0.397)(211.2,0.406)(212.8,0.415)(214.1,0.421)(215.5,0.426)(216.8,0.42)(218.2,0.415)(219.8,0.414)(221.4,0.413)(223,0.406)(224.6,0.4)(226.2,0.392)(227.8,0.385)(229.4,0.381)(231,0.377)(232.6,0.376)(234.2,0.374)(235.8,0.372)(237.4,0.371)(239,0.367)(240.6,0.364)(242.2,0.36)(243.8,0.356)(246,0.351)(248.1,0.359)(250.3,0.364)(251.9,0.369)(253.5,0.374)(255.1,0.367)(256.7,0.361)(258.3,0.354)(259.9,0.348)(261.5,0.345)(263.1,0.343)(264.7,0.345)(266.3,0.346)(268.4,0.356)(270.6,0.366)(272.2,0.362)(273.8,0.359)(275.4,0.356)(277,0.354)(278.6,0.36)(280.2,0.366)(281.3,0.362)(282.4,0.359)(284,0.351)(285.6,0.343)(287.2,0.339)(288.8,0.335)(290.4,0.348)(292,0.361)(293.6,0.356)(295.2,0.351)(296.8,0.356)(298.5,0.361)(299.8,0.357)(301.1,0.354)(302.5,0.348)(303.8,0.343)(305.4,0.334)(307,0.325)(308.6,0.319)(310.2,0.313)(311.8,0.304)(313.4,0.295)(314.5,0.288)(315.6,0.282)(317.2,0.285)(318.8,0.287)(320.4,0.282)(322,0.277)(323.6,0.271)(325.2,0.266)(326.8,0.262)(328.4,0.259)(330,0.257)(331.6,0.256)(332.5,0.257)};
% trend lines
\addplot[forget plot, black, line width=0.9pt, dash pattern=on 4pt off 2pt] coordinates {(26.9,0.552)(60,0.551)(81,0.496)(132.6,0.496)(249.6,0.36)(303.8,0.354)(327.9,0.261)};
\addplot[forget plot, trb, line width=0.8pt, dash pattern=on 0pt off 1.8pt, line cap=round] coordinates {(22.7,0.5265)(132.6,0.5287)(249.6,0.4003)(303.8,0.3795)(331.6,0.2714)};
\addplot[forget plot, trg, line width=0.8pt, dash pattern=on 0pt off 1.8pt, line cap=round] coordinates {(25.9,0.4234)(125.2,0.4257)(246,0.3456)(300.9,0.341)(328.7,0.2765)};
% time markers
\addplot[forget plot, tline] coordinates {(25.6,0.597)(25.6,0.2)};
\addplot[forget plot, tline] coordinates {(80.5,0.597)(80.5,0.2)};
\addplot[forget plot, tline] coordinates {(132.6,0.597)(132.6,0.2)};
\addplot[forget plot, tline] coordinates {(249.7,0.536)(249.7,0.2)};
\addplot[forget plot, tline] coordinates {(301.6,0.536)(301.6,0.2)};
\node[anchor=west, inner sep=1pt, xshift=2pt] at (axis cs:25.6,0.2113) {\tl{0}};
\node[anchor=west, inner sep=1pt, xshift=2pt] at (axis cs:80.5,0.2113) {\tl{1}};
\node[anchor=west, inner sep=1pt, xshift=2pt] at (axis cs:132.6,0.2113) {\tl{3}};
\node[anchor=west, inner sep=1pt, xshift=2pt] at (axis cs:249.7,0.2113) {\tl{4}};
\node[anchor=west, inner sep=1pt, xshift=2pt] at (axis cs:301.6,0.2113) {\tl{5}};
\draw[{Straight Barb[length=5pt,width=9pt]}-{Straight Barb[length=5pt,width=9pt]}, line width=0.7pt] (axis cs:25.6,0.2747) -- (axis cs:249.7,0.2747);
\draw[{Straight Barb[length=5pt,width=9pt]}-{Straight Barb[length=5pt,width=9pt]}, line width=0.7pt] (axis cs:249.7,0.2747) -- (axis cs:301.6,0.2747);
\node[font=\tnr\bfseries\itshape\fontsize{14}{14}\selectfont] at (axis cs:124,0.287) {A};
\node[font=\tnr\bfseries\itshape\fontsize{14}{14}\selectfont] at (axis cs:277.3,0.287) {B};
\coordinate (p4) at (axis cs:98.3,0.4478);
\coordinate (p5) at (axis cs:172,0.4275);
\coordinate (p6) at (axis cs:225.9,0.4584);
\end{axis}

\begin{axis}[rightax, at={(50.5pt,-408.5pt)}, anchor=north west, width=524.5pt, height=337.5pt,
  legend style={at={(0.4519,0.1511)}, anchor=north west}]
\addlegendimage{grb, line width=0.8pt}
\addlegendentry{36,5-38,7 Гц (Cxy=0,81)}
\addlegendimage{blb, line width=1.5pt, dash pattern=on 0pt off 2.2pt, line cap=round}
\addlegendentry{38,7-41,0 Гц (Cxy=0,77)}
\addlegendimage{orb, line width=0.8pt}
\addlegendentry{41,0-43,4 Гц (Cxy=0,80)}
\addlegendimage{wred, line width=2pt}
\addlegendentry{Коэф. передачи Wyx(0)}
\addplot[forget plot, wred, line width=2pt] coordinates {(0,0.43)(1.5,0.432)(3.2,0.438)(5.3,0.441)(7,0.447)(8.6,0.444)(10.8,0.447)(12.4,0.45)(13.9,0.452)(14.6,0.452)(15.2,0.44)(15.6,0.4)(15.9,0.372)(16.3,0.276)(16.7,0.22)(17.2,0.179)(18,0.148)(18.8,0.126)(20,0.112)(21.5,0.102)(23.6,0.09)(24.8,0.083)(25.8,0.076)(26.8,0.077)(27.9,0.077)(29,0.071)(30,0.067)(31,0.063)(32.2,0.061)(34,0.062)(37.5,0.063)(45,0.067)(53.6,0.07)(65,0.071)(80,0.073)(93,0.074)(106.1,0.076)(120,0.079)(132.6,0.0815)(145,0.084)(155,0.086)(164.6,0.089)(175,0.093)(186,0.099)(193,0.102)(200,0.105)(209,0.111)(218,0.118)(225,0.123)(233,0.128)(241,0.134)(249.6,0.141)(252.5,0.145)(255.6,0.148)(258,0.147)(260.6,0.145)(264,0.145)(268,0.144)(271,0.152)(276,0.154)(281.6,0.157)(287,0.165)(292,0.171)(297.6,0.18)(300.8,0.186)(302.5,0.191)(304,0.199)(305.5,0.21)(307,0.225)(308.8,0.24)(310.5,0.257)(312,0.276)(313.5,0.295)(315.2,0.315)(316.8,0.334)(318.4,0.357)(320,0.379)(321.5,0.397)(323,0.414)(324.8,0.425)(326.5,0.433)(328,0.445)(329,0.456)(330.7,0.466)(332,0.47)};
\end{axis}

% ================= annotations =================
\callout{(203.5pt,-169pt)}{(p1)}{1}
\callout{(256.5pt,-169pt)}{(p2)}{2}
\callout{(312pt,-169pt)}{(p3)}{3}
\callout{(388.5pt,-169pt)}{(p7)}{7}
\callout{(156pt,-644pt)}{(p4)}{4}
\callout{(222.5pt,-641.5pt)}{(p5)}{5}
\callout{(305pt,-641.5pt)}{(p6)}{6}

\node[anchor=north west, fill=lg, inner xsep=6pt, inner ysep=3pt, align=left,
  font=\fontsize{11.8}{14.5}\selectfont] at (377.5pt,-412.5pt)
  {\textit{A} - ресурс разового нанесения\\\hspace*{1.6em}смазочного покрытия;\\\textit{B} - граничное трение.};

% axis titles
\begin{scope}[font=\tnr\bfseries\fontsize{11.5}{12}\selectfont]
\node[rotate=90] at (10pt,-185pt) {Коэф. демпфирования};
\node[rotate=90] at (617pt,-186.5pt) {Коэф. трения};
\node[rotate=90] at (9pt,-576pt) {Коэф. демпфирования};
\node[rotate=90] at (617pt,-577.5pt) {Коэф. трения};
\end{scope}
\node[font=\tnr\bfseries\fontsize{12}{12}\selectfont] at (312.5pt,-398.5pt) {Время, с};
\node[font=\tnr\bfseries\fontsize{12}{12}\selectfont] at (312.5pt,-777pt) {Время, с};
\begin{scope}[line width=1.3pt, -{Straight Barb[length=4pt,width=8pt]}]
\draw (9pt,-303pt) -- (9pt,-249pt);
\draw (616pt,-278.5pt) -- (616pt,-239pt);
\draw (9pt,-682.5pt) -- (9pt,-645pt);
\draw (616pt,-684pt) -- (616pt,-645pt);
\draw (234pt,-398.5pt) -- (271pt,-398.5pt);
\draw (234pt,-777pt) -- (271pt,-777pt);
\end{scope}
\end{tikzpicture}
\end{document}
